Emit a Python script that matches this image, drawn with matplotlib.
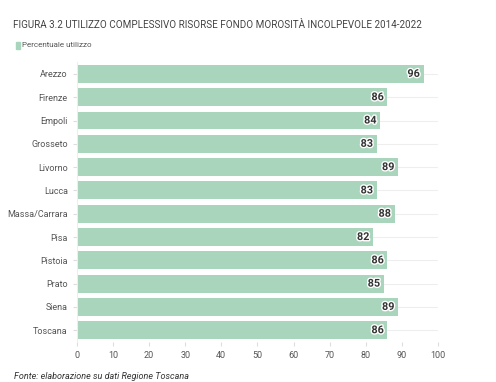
import matplotlib.pyplot as plt
import matplotlib.patheffects as pe

# data
province = ['Arezzo', 'Firenze', 'Empoli', 'Grosseto', 'Livorno', 'Lucca',
            'Massa/Carrara', 'Pisa', 'Pistoia', 'Prato', 'Siena', 'Toscana']
utilizzo = [96, 86, 84, 83, 89, 83, 88, 82, 86, 85, 89, 86]
xticks = [0, 10, 20, 30, 40, 50, 60, 70, 80, 90, 100]

bar_color = '#a8d5bb'
text_color = '#555555'

plt.rcParams['font.family'] = ['Roboto', 'DejaVu Sans']

fig = plt.figure(figsize=(4.96, 3.82), dpi=100)
ax = fig.add_axes([0.155, 0.105, 0.728, 0.732])

y = list(range(len(province)))
ax.barh(y, utilizzo, height=0.77, color=bar_color, zorder=2)

# light horizontal guide lines at each category
for yi in y:
    ax.axhline(yi, color='#eeeeee', linewidth=0.8, zorder=1)

for yi, v in zip(y, utilizzo):
    ax.text(v - 1, yi, str(v), ha='right', va='center', fontsize=7.8,
            fontweight='bold', color='#333333', zorder=3,
            path_effects=[pe.withStroke(linewidth=2, foreground='white')])

ax.set_ylim(len(province) - 0.5, -0.5)
ax.set_xlim(0, 100)
ax.set_yticks(y)
ax.set_yticklabels(province)
ax.set_xticks(xticks)
ax.tick_params(axis='both', labelsize=6.5, colors=text_color, length=3,
               color='#dddddd')
for s in ['top', 'right', 'bottom']:
    ax.spines[s].set_visible(False)
ax.spines['left'].set_color('#eeeeee')

fig.text(0.026, 0.935, 'FIGURA 3.2 UTILIZZO COMPLESSIVO RISORSE FONDO MOROSITÀ INCOLPEVOLE 2014-2022',
         fontsize=7.1, color='#444444', va='center', ha='left')
fig.patches.append(plt.Rectangle((0.032, 0.873), 0.009, 0.016, color=bar_color,
                                 transform=fig.transFigure, figure=fig))
fig.text(0.045, 0.881, 'Percentuale utilizzo', fontsize=5.8, color=text_color,
         va='center', ha='left')
fig.text(0.028, 0.003, 'Fonte: elaborazione su dati Regione Toscana',
         fontsize=6.5, color='#333333', style='italic', ha='left', va='bottom')

fig.savefig('out.png', dpi=100)
